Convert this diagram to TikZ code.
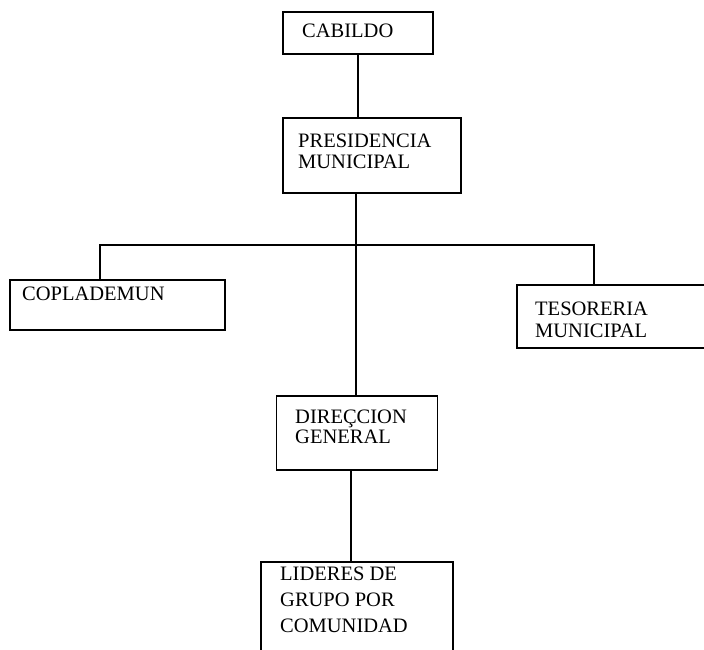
\documentclass[tikz,border=0pt]{standalone}
\usepackage{fontspec}
\setmainfont{Liberation Serif}
\begin{document}
\begin{tikzpicture}[x=1pt,y=-1pt,
  box/.style={draw=black, line width=1.4pt, rectangle, inner sep=0pt},
  lbl/.style={anchor=base west, inner sep=0pt, font=\fontsize{20.5}{22}\selectfont},
  conn/.style={draw=black, line width=1.4pt}]
\useasboundingbox (0,0) rectangle (704,650);
\clip (0,0) rectangle (704,650);
% boxes
\node[box, minimum width=150pt, minimum height=42pt] (cab) at (358,33) {};
\node[box, minimum width=178pt, minimum height=75pt] (pres) at (372,155.5) {};
\node[box, minimum width=215pt, minimum height=50pt] (cop) at (117.5,305) {};
\node[box, minimum width=203pt, minimum height=63pt] (tes) at (618.5,316.5) {};
\node[box, minimum width=161pt, minimum height=74pt] (dir) at (357,433) {};
\node[box, minimum width=192pt, minimum height=108pt] (lid) at (357,616) {};
% texts
\node[lbl] (t1) at (302,38) {CABILDO};
\node[lbl] (t2) at (298,147) {PRESIDENCIA};
\node[lbl] (t3) at (298,168.5) {MUNICIPAL};
\node[lbl] (t4) at (22,300) {COPLADEMUN};
\node[lbl] (t5) at (535,315) {TESORERIA};
\node[lbl] (t6) at (535,337) {MUNICIPAL};
\node[lbl] (t7) at (295,423) {DIREÇCION};
\node[lbl] (t8) at (295,443) {GENERAL};
\node[lbl] (t9) at (280,580) {LIDERES DE};
\node[lbl] (t10) at (280,606) {GRUPO POR};
\node[lbl] (t11) at (280,632) {COMUNIDAD};
% connectors
\coordinate (bl) at (100,245);
\coordinate (br) at (594,245);
\draw[conn] (cab.south) -- (cab.south |- pres.north);
\draw[conn] ([xshift=-1pt]dir.north |- pres.south) -- ([xshift=-1pt]dir.north);
\draw[conn] (bl |- cop.north) -- (bl) -- (br) -- (br |- tes.north);
\draw[conn] ([xshift=-6pt]lid.north) -- ([xshift=-6pt]lid.north |- dir.south);
\end{tikzpicture}
\end{document}
